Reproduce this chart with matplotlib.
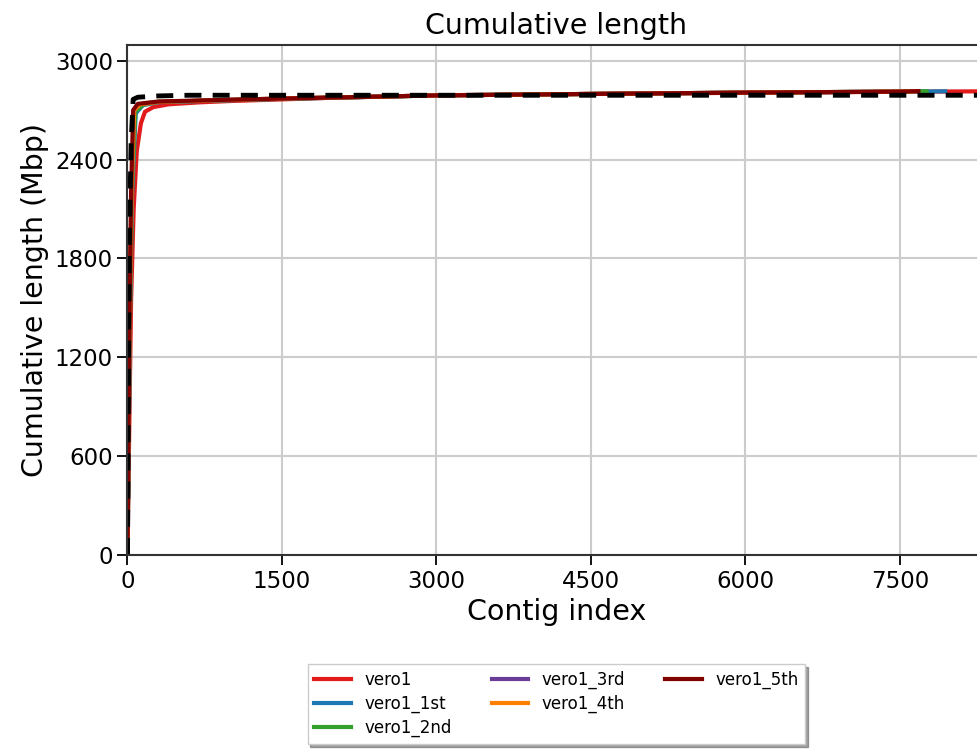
import numpy as np
import matplotlib
matplotlib.use('Agg')
import matplotlib.pyplot as plt
from matplotlib.lines import Line2D

# cumulative length curves (contig index -> Mbp)
vero1_x = [0, 10, 20, 35, 60, 90, 130, 170, 250, 400, 700, 1000, 1500, 2000, 3000, 4500, 6000, 7500, 8330]
vero1_y = [0, 450, 900, 1550, 2100, 2450, 2620, 2690, 2718, 2735, 2747, 2755, 2765, 2775, 2790, 2798, 2805, 2811, 2814]

vero1_1st_x = [0, 10, 25, 45, 80, 150, 300, 1000, 1500, 3000, 4500, 6000, 7500, 7940]
vero1_1st_y = [0, 600, 1500, 2200, 2680, 2730, 2748, 2760, 2768, 2789, 2798, 2806, 2812, 2814]

vero1_2nd_x = [0, 10, 25, 45, 75, 150, 300, 1000, 1500, 3000, 4500, 6000, 7500, 7760]
vero1_2nd_y = [0, 620, 1520, 2230, 2690, 2733, 2750, 2761, 2769, 2789, 2798, 2806, 2812, 2814]

vero1_3rd_x = [0, 9, 22, 40, 65, 120, 300, 1000, 1500, 3000, 4500, 6000, 7500, 7650]
vero1_3rd_y = [0, 620, 1520, 2220, 2700, 2735, 2750, 2762, 2770, 2789, 2798, 2806, 2812, 2814]

vero1_4th_x = [0, 9, 22, 40, 65, 120, 300, 1000, 1500, 3000, 4500, 6000, 7500, 7650]
vero1_4th_y = [0, 620, 1520, 2220, 2700, 2735, 2750, 2762, 2770, 2789, 2798, 2806, 2812, 2814]

vero1_5th_x = [0, 8, 20, 35, 55, 100, 300, 1000, 1500, 3000, 4500, 6000, 7500, 7680]
vero1_5th_y = [0, 600, 1500, 2200, 2700, 2738, 2752, 2763, 2770, 2789, 2798, 2806, 2812, 2815]

ref_x = [0, 5, 12, 20, 35, 55, 100, 300, 600, 8330]
ref_y = [0, 600, 1400, 2000, 2500, 2765, 2778, 2786, 2790, 2790]

series = [
    ('vero1', vero1_x, vero1_y, '#E31A1C'),
    ('vero1_1st', vero1_1st_x, vero1_1st_y, '#1F78B4'),
    ('vero1_2nd', vero1_2nd_x, vero1_2nd_y, '#33A02C'),
    ('vero1_3rd', vero1_3rd_x, vero1_3rd_y, '#6A3D9A'),
    ('vero1_4th', vero1_4th_x, vero1_4th_y, '#FF7F00'),
    ('vero1_5th', vero1_5th_x, vero1_5th_y, '#800000'),
]

fig = plt.figure(figsize=(9.77, 7.55), dpi=100)
ax = fig.add_axes([0.1305, 0.2649, 0.878, 0.6755])

handles = []
for name, xs, ys, c in series:
    h, = ax.plot(xs, ys, color=c, lw=3, label=name)
    handles.append(h)
ax.plot(ref_x, ref_y, color='black', lw=3.5, ls=(0, (3.5, 2.3)))

ax.set_xlim(0, 8330)
ax.set_ylim(0, 3095)
ax.set_xticks([0, 1500, 3000, 4500, 6000, 7500])
ax.set_yticks([0, 600, 1200, 1800, 2400, 3000])
ax.grid(True, color='#cccccc', lw=1.5)
ax.set_axisbelow(True)
for s in ax.spines.values():
    s.set_linewidth(1.5)
    s.set_color('#333333')
ax.tick_params(labelsize=16.5, length=7, width=1.3)

ax.set_title('Cumulative length', fontsize=20.5, pad=8)
ax.set_xlabel('Contig index', fontsize=20.5)
ax.set_ylabel('Cumulative length (Mbp)', fontsize=20.5)

# three rows, filled column by column: 3 + 2 + 1 entries
blank = Line2D([], [], color='none')
leg_handles = handles[:3] + handles[3:5] + [blank] + handles[5:] + [blank, blank]
leg_labels = [h.get_label() for h in handles[:3]] + \
             [h.get_label() for h in handles[3:5]] + [''] + \
             [handles[5].get_label(), '', '']
ax.legend(leg_handles, leg_labels, loc='upper center', bbox_to_anchor=(0.5, -0.198),
          ncol=3, fontsize=12, shadow=True, fancybox=False, handlelength=2.2,
          columnspacing=2.4, labelspacing=0.35, borderpad=0.4)

fig.savefig('out.png', dpi=100)
